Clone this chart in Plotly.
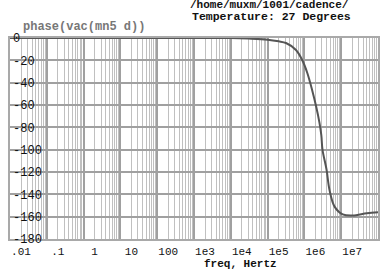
import plotly.graph_objects as go

# Data (phase vs frequency)
freq = [0.01, 1, 100, 1e3, 1e4, 3e4, 1e5, 2e5, 3.16e5, 5.9e5, 8.7e5, 1.2e6, 1.62e6, 2.1e6,
        2.57e6, 2.88e6, 3.1e6, 4e6, 4.8e6, 6.6e6, 1.1e7, 2.04e7, 5e7, 1e8]
phase = [0, 0, 0, 0, 0, -0.5, -1.5, -3, -4.5, -10.7, -19.7, -31.3, -46.5, -61.8,
         -76, -87, -100, -118, -136, -151, -158, -159, -157, -156]

xtick_vals = [0.01, 0.1, 1, 10, 100, 1e3, 1e4, 1e5, 1e6, 1e7]
xtick_text = [".01", ".1", "1", "10", "100", "1e3", "1e4", "1e5", "1e6", "1e7"]
ytick_vals = [0, -20, -40, -60, -80, -100, -120, -140, -160, -180]
ytick_text = ["0", "-20", "-40", "-60", "-80", "-100", "-120", "-140", "-160", "-180"]

mono = "Liberation Mono"
NB = "\u00a0"
# pad y labels so they are left-aligned (monospace)
ytext_padded = [t + NB * (4 - len(t)) for t in ytick_text]

fig = go.Figure()
fig.add_trace(go.Scatter(x=freq, y=phase, mode="lines", line=dict(color="#555555", width=2, shape="spline"),
                         showlegend=False, hoverinfo="skip"))

fig.update_layout(
    width=380, height=270,
    margin=dict(l=10, r=2, t=38, b=31),
    paper_bgcolor="white", plot_bgcolor="white",
    xaxis=dict(type="log", range=[-2, 8], tickmode="array", tickvals=xtick_vals, ticktext=xtick_text,
               showgrid=True, gridcolor="#a0a0a0", gridwidth=1.5, zeroline=False,
               ticks="", ticklabelshift=11, ticklabelstandoff=1, automargin=False,
               tickfont=dict(family=mono, size=11, color="#111"),
               minor=dict(dtick="D1", showgrid=True, gridcolor="#c0c0c0", gridwidth=1, ticks=""),
               showline=True, linecolor="#a9a9a9", linewidth=1.5, mirror=True),
    yaxis=dict(range=[-180, 0], tickmode="array", tickvals=ytick_vals, ticktext=ytext_padded,
               showgrid=True, gridcolor="#a0a0a0", gridwidth=1.5, zeroline=False,
               ticks="", ticklabelposition="outside", ticklabelstandoff=-36, automargin=False,
               tickfont=dict(family=mono, size=12, color="#111"),
               showline=True, linecolor="#a9a9a9", linewidth=1.5, mirror=True),
    annotations=[
        dict(text="<b>/home/muxm/1001/cadence/</b>", x=0.484, y=1.164, xref="paper", yref="paper",
             xanchor="left", yanchor="middle", showarrow=False, font=dict(family=mono, size=11, color="#111")),
        dict(text="<b>Temperature: 27 Degrees</b>", x=0.489, y=1.105, xref="paper", yref="paper",
             xanchor="left", yanchor="middle", showarrow=False, font=dict(family=mono, size=11.5, color="#111")),
        dict(text="<b>phase(vac(mn5 d))</b>", x=0.03, y=1.057, xref="paper", yref="paper",
             xanchor="left", yanchor="middle", showarrow=False, font=dict(family=mono, size=12, color="#777")),
        dict(text="<b>freq, Hertz</b>", x=0.625, y=-0.125, xref="paper", yref="paper",
             xanchor="center", yanchor="middle", showarrow=False, font=dict(family=mono, size=11, color="#111")),
    ],
)

fig.write_html("out.html")
